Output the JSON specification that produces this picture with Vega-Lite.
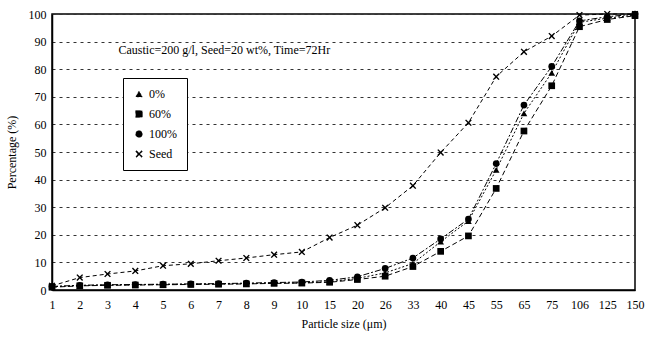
{
  "$schema": "https://vega.github.io/schema/vega-lite/v6.json",
  "width": 583,
  "height": 276,
  "autosize": {"type": "none"},
  "padding": {"left": 52, "top": 14, "right": 10, "bottom": 48},
  "background": "white",
  "config": {
    "font": "Liberation Serif",
    "view": {"stroke": "black", "strokeWidth": 1.5},
    "axis": {
      "labelFont": "Liberation Serif",
      "titleFont": "Liberation Serif",
      "labelFontSize": 12,
      "titleFontSize": 12,
      "titleFontWeight": "normal",
      "labelColor": "black",
      "titleColor": "black",
      "domainColor": "black",
      "domainWidth": 1.5
    },
    "legend": {
      "orient": "none",
      "legendX": 71,
      "legendY": 64,
      "strokeColor": "black",
      "fillColor": "white",
      "padding": 10,
      "rowPadding": 8,
      "labelFont": "Liberation Serif",
      "labelFontSize": 12,
      "labelColor": "black",
      "symbolFillColor": "black",
      "symbolStrokeColor": "black",
      "symbolSize": 45
    }
  },
  "datasets": {
    "main": [
      {"size": "1", "series": "0%", "value": 1.2}, {"size": "2", "series": "0%", "value": 1.6}, {"size": "3", "series": "0%", "value": 1.8}, {"size": "4", "series": "0%", "value": 1.9}, {"size": "5", "series": "0%", "value": 2.0}, {"size": "6", "series": "0%", "value": 2.1}, {"size": "7", "series": "0%", "value": 2.2}, {"size": "8", "series": "0%", "value": 2.3}, {"size": "9", "series": "0%", "value": 2.5}, {"size": "10", "series": "0%", "value": 2.6}, {"size": "15", "series": "0%", "value": 3.0}, {"size": "20", "series": "0%", "value": 4.2}, {"size": "26", "series": "0%", "value": 6.2}, {"size": "33", "series": "0%", "value": 9.6}, {"size": "40", "series": "0%", "value": 17.5}, {"size": "45", "series": "0%", "value": 25.0}, {"size": "55", "series": "0%", "value": 43.5}, {"size": "65", "series": "0%", "value": 64}, {"size": "75", "series": "0%", "value": 78.7}, {"size": "106", "series": "0%", "value": 97}, {"size": "125", "series": "0%", "value": 98.5}, {"size": "150", "series": "0%", "value": 99.6},
      {"size": "1", "series": "60%", "value": 1.0}, {"size": "2", "series": "60%", "value": 1.5}, {"size": "3", "series": "60%", "value": 1.7}, {"size": "4", "series": "60%", "value": 1.8}, {"size": "5", "series": "60%", "value": 1.9}, {"size": "6", "series": "60%", "value": 2.0}, {"size": "7", "series": "60%", "value": 2.1}, {"size": "8", "series": "60%", "value": 2.2}, {"size": "9", "series": "60%", "value": 2.4}, {"size": "10", "series": "60%", "value": 2.5}, {"size": "15", "series": "60%", "value": 2.8}, {"size": "20", "series": "60%", "value": 3.8}, {"size": "26", "series": "60%", "value": 5.0}, {"size": "33", "series": "60%", "value": 8.5}, {"size": "40", "series": "60%", "value": 14}, {"size": "45", "series": "60%", "value": 19.6}, {"size": "55", "series": "60%", "value": 36.8}, {"size": "65", "series": "60%", "value": 57.6}, {"size": "75", "series": "60%", "value": 74}, {"size": "106", "series": "60%", "value": 95.4}, {"size": "125", "series": "60%", "value": 98.0}, {"size": "150", "series": "60%", "value": 99.4},
      {"size": "1", "series": "100%", "value": 1.3}, {"size": "2", "series": "100%", "value": 1.7}, {"size": "3", "series": "100%", "value": 1.9}, {"size": "4", "series": "100%", "value": 2.0}, {"size": "5", "series": "100%", "value": 2.1}, {"size": "6", "series": "100%", "value": 2.2}, {"size": "7", "series": "100%", "value": 2.3}, {"size": "8", "series": "100%", "value": 2.5}, {"size": "9", "series": "100%", "value": 2.7}, {"size": "10", "series": "100%", "value": 2.9}, {"size": "15", "series": "100%", "value": 3.5}, {"size": "20", "series": "100%", "value": 4.8}, {"size": "26", "series": "100%", "value": 7.8}, {"size": "33", "series": "100%", "value": 11.6}, {"size": "40", "series": "100%", "value": 18.5}, {"size": "45", "series": "100%", "value": 25.7}, {"size": "55", "series": "100%", "value": 45.8}, {"size": "65", "series": "100%", "value": 67}, {"size": "75", "series": "100%", "value": 81}, {"size": "106", "series": "100%", "value": 97.5}, {"size": "125", "series": "100%", "value": 99}, {"size": "150", "series": "100%", "value": 100},
      {"size": "1", "series": "Seed", "value": 1.5}, {"size": "2", "series": "Seed", "value": 4.5}, {"size": "3", "series": "Seed", "value": 5.8}, {"size": "4", "series": "Seed", "value": 6.9}, {"size": "5", "series": "Seed", "value": 8.8}, {"size": "6", "series": "Seed", "value": 9.5}, {"size": "7", "series": "Seed", "value": 10.6}, {"size": "8", "series": "Seed", "value": 11.6}, {"size": "9", "series": "Seed", "value": 12.8}, {"size": "10", "series": "Seed", "value": 13.8}, {"size": "15", "series": "Seed", "value": 19}, {"size": "20", "series": "Seed", "value": 23.5}, {"size": "26", "series": "Seed", "value": 29.8}, {"size": "33", "series": "Seed", "value": 37.8}, {"size": "40", "series": "Seed", "value": 49.8}, {"size": "45", "series": "Seed", "value": 60.6}, {"size": "55", "series": "Seed", "value": 77.3}, {"size": "65", "series": "Seed", "value": 86.3}, {"size": "75", "series": "Seed", "value": 92}, {"size": "106", "series": "Seed", "value": 99.6}, {"size": "125", "series": "Seed", "value": 100}, {"size": "150", "series": "Seed", "value": 100}
    ],
    "note": [
      {"size": "3", "value": 87, "label": "Caustic=200 g/l, Seed=20 wt%, Time=72Hr"}
    ]
  },
  "encoding": {
    "x": {
      "field": "size",
      "type": "ordinal",
      "sort": ["1", "2", "3", "4", "5", "6", "7", "8", "9", "10", "15", "20", "26", "33", "40", "45", "55", "65", "75", "106", "125", "150"],
      "scale": {"type": "point", "padding": 0},
      "axis": {"title": "Particle size (μm)", "labelAngle": 0, "ticks": false, "labelPadding": 9, "titlePadding": 8, "grid": false}
    },
    "y": {
      "field": "value",
      "type": "quantitative",
      "scale": {"domain": [0, 100], "nice": false},
      "axis": {
        "title": "Percentage (%)",
        "values": [0, 10, 20, 30, 40, 50, 60, 70, 80, 90, 100],
        "ticks": false,
        "labelPadding": 6,
        "titlePadding": 10,
        "grid": true,
        "gridColor": "#333",
        "gridDash": [3, 4],
        "gridWidth": 1
      }
    }
  },
  "layer": [
    {
      "data": {"name": "main"},
      "mark": {"type": "line", "color": "black", "strokeWidth": 1},
      "encoding": {
        "strokeDash": {
          "field": "series",
          "type": "nominal",
          "scale": {"domain": ["0%", "60%", "100%", "Seed"], "range": [[2, 2], [5, 3], [6, 2, 2, 2], [4, 3]]},
          "legend": {
            "title": null,
            "labelFont": "Liberation Serif",
            "encode": {
              "symbols": {"update": {"strokeDash": {"value": [1, 0]}, "fill": {"value": "black"}, "stroke": {"value": "black"}, "fillOpacity": {"value": 1}, "size": {"value": 45}, "strokeWidth": {"value": 0.5}}},
              "labels": {"update": {"font": {"value": "Liberation Serif"}, "fontSize": {"value": 12}}}
            }
          }
        }
      }
    },
    {
      "data": {"name": "main"},
      "mark": {"type": "point", "filled": true, "color": "black", "size": 45, "opacity": 1},
      "encoding": {
        "shape": {
          "field": "series",
          "type": "nominal",
          "scale": {"domain": ["0%", "60%", "100%", "Seed"], "range": ["triangle-up", "square", "circle", "M-1,-0.75L-0.7,-1L0,-0.3L0.7,-1L1,-0.75L0.3,0L1,0.75L0.7,1L0,0.3L-0.7,1L-1,0.75L-0.3,0Z"]},
          "legend": {
            "title": null,
            "labelFont": "Liberation Serif",
            "encode": {
              "symbols": {"update": {"strokeDash": {"value": [1, 0]}, "fill": {"value": "black"}, "stroke": {"value": "black"}, "fillOpacity": {"value": 1}, "size": {"value": 45}, "strokeWidth": {"value": 0.5}}},
              "labels": {"update": {"font": {"value": "Liberation Serif"}, "fontSize": {"value": 12}}}
            }
          }
        }
      }
    },
    {
      "data": {"name": "note"},
      "mark": {"type": "text", "align": "left", "baseline": "middle", "dx": 11, "fontSize": 12, "font": "Liberation Serif", "color": "black"},
      "encoding": {"text": {"field": "label"}}
    }
  ]
}
